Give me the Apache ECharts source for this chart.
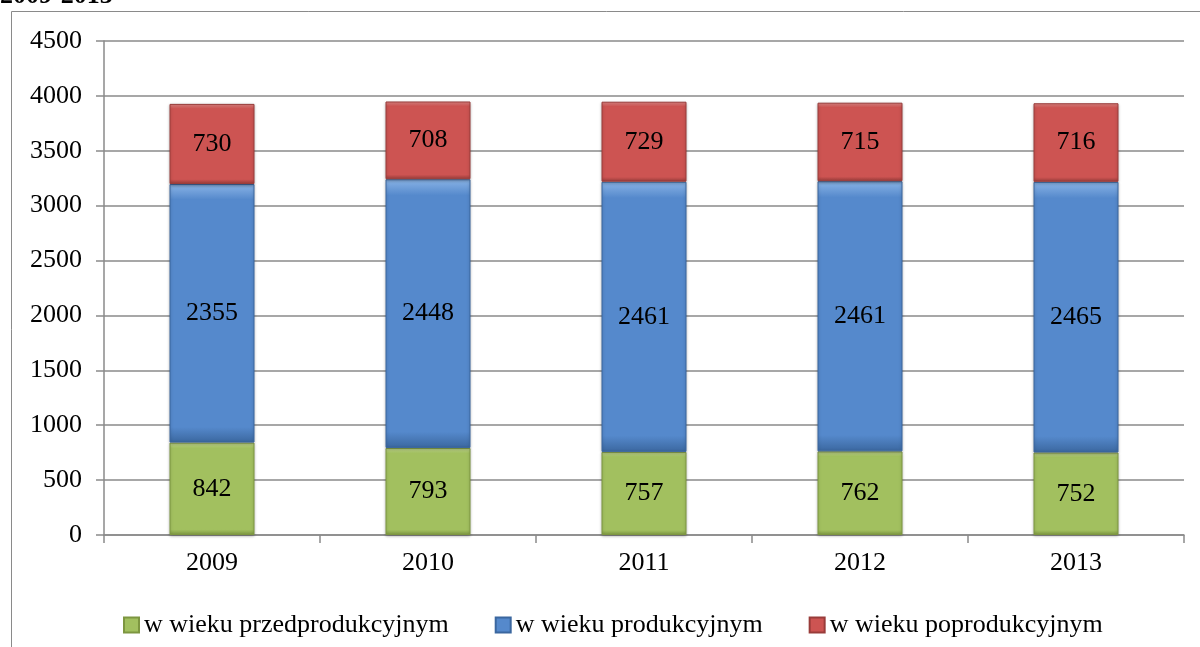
<!DOCTYPE html>
<html lang="pl">
<head>
    <meta charset="UTF-8">
    <title>Ludność 2009-2013</title>
    <script src="https://cdn.jsdelivr.net/npm/echarts@6/dist/echarts.min.js"></script>
    <style>
        html, body { margin: 0; padding: 0; background: #fff; }
    </style>
</head>
<body>
    <div id="main" style="width: 1200px; height: 647px;"></div>
    <script>
        const years = ['2009', '2010', '2011', '2012', '2013'];
        const przed = [842, 793, 757, 762, 752];
        const prod = [2355, 2448, 2461, 2461, 2465];
        const popr = [730, 708, 729, 715, 716];
        const seriesNames = ['w wieku przedprodukcyjnym', 'w wieku produkcyjnym', 'w wieku poprodukcyjnym'];

        const font = '"Liberation Serif", "Times New Roman", serif';

        // kolor słupka z lekkim gradientem (imitacja fazowania)
        function fill(light, base, dark) {
            return new echarts.graphic.LinearGradient(0, 0, 0, 1, [
                { offset: 0, color: light },
                { offset: 0.06, color: base },
                { offset: 0.94, color: base },
                { offset: 1, color: dark }
            ]);
        }

        function barSeries(name, data, light, base, dark) {
            return {
                name: name,
                type: 'bar',
                stack: 'all',
                barWidth: 85,
                data: data,
                itemStyle: {
                    color: fill(light, base, dark),
                    borderColor: dark,
                    borderWidth: 1,
                    shadowColor: 'rgba(0,0,0,0.25)',
                    shadowBlur: 3,
                    shadowOffsetY: 1
                },
                label: {
                    show: true,
                    position: 'inside',
                    color: '#000',
                    fontFamily: font,
                    fontSize: 26
                }
            };
        }

        var myChart = echarts.init(document.getElementById('main'));
        var option = {
            animation: false,
            grid: { left: 104, right: 16, top: 41, bottom: 112 },
            graphic: [
                {
                    type: 'rect',
                    shape: { x: 11.5, y: 11.5, width: 1200, height: 700 },
                    style: { fill: 'none', stroke: '#8a8a8a', lineWidth: 1 },
                    silent: true
                },
                {
                    type: 'text',
                    left: 0, top: -17,
                    style: { text: '2009-2013', font: 'bold 26px ' + font, fill: '#000' }
                }
            ],
            legend: {
                left: 118,
                top: 607,
                itemWidth: 15,
                itemHeight: 15,
                itemGap: 46,
                icon: 'rect',
                textStyle: { fontFamily: font, fontSize: 26, color: '#000' },
                data: seriesNames
            },
            xAxis: {
                type: 'category',
                data: years,
                axisLine: { lineStyle: { color: '#8a8a8a', width: 1.5 } },
                axisTick: { show: true, length: 8, lineStyle: { color: '#8a8a8a', width: 1.5 } },
                axisLabel: { fontFamily: font, fontSize: 26, color: '#000', margin: 15 }
            },
            yAxis: {
                type: 'value',
                min: 0,
                max: 4500,
                interval: 500,
                axisLine: { show: true, lineStyle: { color: '#8a8a8a', width: 1.5 } },
                axisTick: { show: true, length: 8, lineStyle: { color: '#8a8a8a', width: 1.5 } },
                axisLabel: {
                    fontFamily: font, fontSize: 26, color: '#000', margin: 22,
                    formatter: function (v) { return String(v); }
                },
                splitLine: { lineStyle: { color: '#8a8a8a', width: 1.5 } }
            },
            series: [
                barSeries(seriesNames[0], przed, '#c7dc95', '#a2c05f', '#7d9640'),
                barSeries(seriesNames[1], prod, '#8ab4e6', '#5589cc', '#3b679f'),
                barSeries(seriesNames[2], popr, '#e58a88', '#cd5452', '#993c3a')
            ]
        };
        myChart.setOption(option);
    </script>
</body>
</html>
